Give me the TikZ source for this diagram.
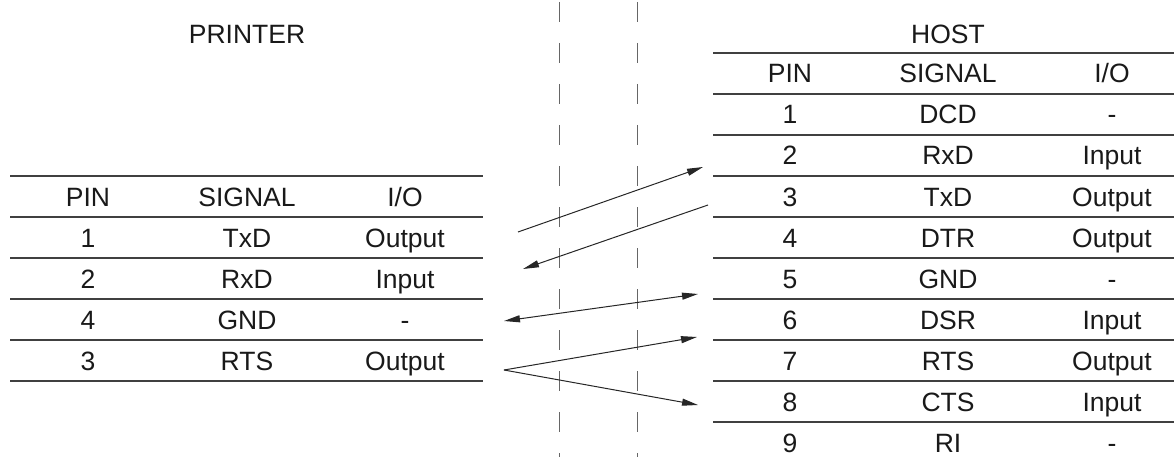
\documentclass[tikz,border=0pt]{standalone}
\usepackage{fontspec}
\setmainfont{Liberation Sans}
\usetikzlibrary{positioning,arrows.meta}

\begin{document}
\begin{tikzpicture}[x=1pt, y=-1pt, node distance={41pt},
  cell/.style = {font=\fontsize{26.5}{31}\selectfont, text=black!90, inner sep=0pt, text height=19pt, text depth=0pt},
  rule/.style = {draw=black!75, line width=1.4pt},
  cut/.style = {draw=black!60, line width=0.9pt, dash pattern=on 20pt off 21pt, dash phase=39pt},
  wire/.style = {draw=black!85, line width=1pt, -{Triangle[length=16pt,width=7pt]}}]
\useasboundingbox (0,0) rectangle (1174,457);
% printer side
\node[cell] (printer) at (247,34) {PRINTER};
\node[cell] (lpin) at (88,196.5) {PIN};
\node[cell] (lsig) at (247,196.5) {SIGNAL};
\node[cell] (lio) at (405,196.5) {I/O};
\node[cell] (lpin1) [below of=lpin] {1};
\node[cell] (lpin2) [below of=lpin1] {2};
\node[cell] (lpin3) [below of=lpin2] {4};
\node[cell] (lpin4) [below of=lpin3] {3};
\node[cell] (lsig1) [below of=lsig] {TxD};
\node[cell] (lsig2) [below of=lsig1] {RxD};
\node[cell] (lsig3) [below of=lsig2] {GND};
\node[cell] (lsig4) [below of=lsig3] {RTS};
\node[cell] (lio1) [below of=lio] {Output};
\node[cell] (lio2) [below of=lio1] {Input};
\node[cell] (lio3) [below of=lio2] {-};
\node[cell] (lio4) [below of=lio3] {Output};
\draw[rule] (10,176) -- (483,176);
\draw[rule] (10,217) -- (483,217);
\draw[rule] (10,258) -- (483,258);
\draw[rule] (10,299) -- (483,299);
\draw[rule] (10,340) -- (483,340);
\draw[rule] (10,381) -- (483,381);
% host side
\node[cell] (host) at (948,34) {HOST};
\node[cell] (rpin) at (790,73.5) {PIN};
\node[cell] (rsig) at (948,73.5) {SIGNAL};
\node[cell] (rio) at (1112,73.5) {I/O};
\node[cell] (rpin1) [below of=rpin] {1};
\node[cell] (rpin2) [below of=rpin1] {2};
\node[cell] (rpin3) [below of=rpin2] {3};
\node[cell] (rpin4) [below of=rpin3] {4};
\node[cell] (rpin5) [below of=rpin4] {5};
\node[cell] (rpin6) [below of=rpin5] {6};
\node[cell] (rpin7) [below of=rpin6] {7};
\node[cell] (rpin8) [below of=rpin7] {8};
\node[cell] (rpin9) [below of=rpin8] {9};
\node[cell] (rsig1) [below of=rsig] {DCD};
\node[cell] (rsig2) [below of=rsig1] {RxD};
\node[cell] (rsig3) [below of=rsig2] {TxD};
\node[cell] (rsig4) [below of=rsig3] {DTR};
\node[cell] (rsig5) [below of=rsig4] {GND};
\node[cell] (rsig6) [below of=rsig5] {DSR};
\node[cell] (rsig7) [below of=rsig6] {RTS};
\node[cell] (rsig8) [below of=rsig7] {CTS};
\node[cell] (rsig9) [below of=rsig8] {RI};
\node[cell] (rio1) [below of=rio] {-};
\node[cell] (rio2) [below of=rio1] {Input};
\node[cell] (rio3) [below of=rio2] {Output};
\node[cell] (rio4) [below of=rio3] {Output};
\node[cell] (rio5) [below of=rio4] {-};
\node[cell] (rio6) [below of=rio5] {Input};
\node[cell] (rio7) [below of=rio6] {Output};
\node[cell] (rio8) [below of=rio7] {Input};
\node[cell] (rio9) [below of=rio8] {-};
\draw[rule] (713,53) -- (1174,53);
\draw[rule] (713,94) -- (1174,94);
\draw[rule] (713,135) -- (1174,135);
\draw[rule] (713,176) -- (1174,176);
\draw[rule] (713,217) -- (1174,217);
\draw[rule] (713,258) -- (1174,258);
\draw[rule] (713,299) -- (1174,299);
\draw[rule] (713,340) -- (1174,340);
\draw[rule] (713,381) -- (1174,381);
\draw[rule] (713,422) -- (1174,422);
% cable
\draw[cut] (559,0) -- (559,457);
\draw[cut] (637,0) -- (637,457);
\coordinate (ptxd) at (518,232);
\coordinate (prxd) at (523,269);
\coordinate (pgnd) at (504,321);
\coordinate (prts) at (504,370);
\coordinate (hrxd) at (703,167);
\coordinate (htxd) at (708,205);
\coordinate (hgnd) at (698,294);
\coordinate (hdsr) at (697,337);
\coordinate (hcts) at (698,405);
\draw[wire] (ptxd) -- (hrxd);
\draw[wire] (htxd) -- (prxd);
\draw[wire, {Triangle[length=16pt,width=7pt]}-{Triangle[length=16pt,width=7pt]}] (pgnd) -- (hgnd);
\draw[wire] (prts) -- (hdsr);
\draw[wire] (prts) -- (hcts);
\end{tikzpicture}
\end{document}
